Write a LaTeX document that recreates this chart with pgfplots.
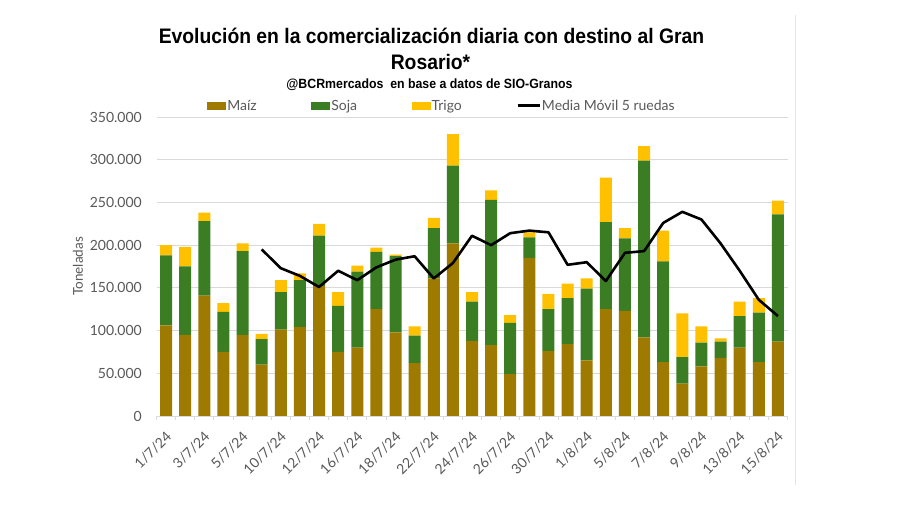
\documentclass[border=0pt]{standalone}
\usepackage{fontspec}
\setmainfont{Lato}
\newfontfamily\titlefont{Liberation Sans}[FakeStretch=0.92]
\usepackage{pgfplots}
\pgfplotsset{compat=1.18}
\definecolor{maiz}{HTML}{9E7B00}
\definecolor{soja}{HTML}{3B7D23}
\definecolor{trigo}{HTML}{FFC000}
\definecolor{txt}{HTML}{595959}
\definecolor{grd}{HTML}{D9D9D9}
\begin{document}
\begin{tikzpicture}
\path[use as bounding box] (0,0) rectangle (900pt,505pt);
\fill[white] (0,0) rectangle (900pt,505pt);
\draw[grd!70, line width=0.6pt] (795pt,20pt) -- (795pt,490pt);
\node[font=\titlefont\bfseries\fontsize{21}{24}\selectfont] at (431.5pt,469.4pt) {Evolución en la comercialización diaria con destino al Gran};
\node[font=\titlefont\bfseries\fontsize{21}{24}\selectfont] at (430.5pt,443pt) {Rosario*};
\node[font=\titlefont\bfseries\fontsize{13.4}{15}\selectfont] at (429.5pt,420.5pt) {@BCRmercados\ \ en base a datos de SIO-Granos};
\node[font=\fontsize{13.5}{15}\selectfont, text=txt, rotate=90] at (78pt,238.5pt) {Toneladas};
\begin{axis}[
  at={(156.5pt,89pt)}, anchor=south west,
  scale only axis, width=631pt, height=299pt,
  ybar stacked, bar width=12pt,
  xmin=-0.5, xmax=32.5, ymin=0, ymax=350,
  axis line style={draw=none},
  axis x line*=bottom,
  x axis line style={draw=grd, line width=0.8pt},
  axis y line*=left,
  y axis line style={draw=none},
  ymajorgrids, grid style={grd, line width=0.8pt},
  ytick={0,50,...,350},
  yticklabels={0,50.000,100.000,150.000,200.000,250.000,300.000,350.000},
  yticklabel style={font=\fontsize{14}{16}\selectfont, text=txt, inner sep=0pt, xshift=-14.5pt, anchor=east},
  xtick={0,2,...,32},
  xticklabels={1/7/24,3/7/24,5/7/24,10/7/24,12/7/24,16/7/24,18/7/24,22/7/24,24/7/24,26/7/24,30/7/24,1/8/24,5/8/24,7/8/24,9/8/24,13/8/24,15/8/24},
  xticklabel style={font=\fontsize{14}{16}\selectfont, text=txt, inner sep=0pt, xshift=3pt, yshift=-18pt, rotate=45, anchor=east},
  minor xtick={-0.5,0.5,...,32.5},
  major tick length=0pt, minor tick length=4pt,
  tick align=outside, tick pos=bottom,
  minor tick style={grd, line width=0.8pt},
  legend columns=4,
  legend style={draw=none, fill=none, at={(0.4517,1.0378)}, anchor=center,
    font=\fontsize{14}{16}\selectfont, text=txt, inner sep=0pt,
    nodes={inner sep=1pt},
    /tikz/every even column/.append style={column sep=53.5pt}},
  legend cell align=left,
  legend image code/.code={\fill[#1] (0pt,-4pt) rectangle (19pt,4pt);},
]
\addplot[fill=maiz, draw=none] coordinates {
(0,106) (1,95) (2,141) (3,75) (4,95) (5,60) (6,101) (7,104) (8,152) (9,75) (10,80)
(11,125) (12,98) (13,62) (14,161) (15,202) (16,88) (17,83) (18,49) (19,185) (20,76)
(21,84) (22,65) (23,125) (24,123) (25,92) (26,63) (27,38) (28,58) (29,68) (30,80) (31,63) (32,87)};
\addplot[fill=soja, draw=none] coordinates {
(0,82) (1,80) (2,87) (3,47) (4,98) (5,30) (6,44) (7,55) (8,59) (9,54) (10,89)
(11,67) (12,89) (13,32) (14,59) (15,91) (16,46) (17,170) (18,60) (19,24) (20,49)
(21,54) (22,84) (23,102) (24,85) (25,207) (26,118) (27,31) (28,28) (29,19) (30,37) (31,58) (32,149)};
\addplot[fill=trigo, draw=none] coordinates {
(0,12) (1,23) (2,10) (3,10) (4,9) (5,6) (6,14) (7,8) (8,14) (9,16) (10,7)
(11,5) (12,2) (13,11) (14,12) (15,37) (16,11) (17,11) (18,9) (19,6) (20,18)
(21,17) (22,12) (23,52) (24,12) (25,17) (26,36) (27,51) (28,19) (29,4) (30,17) (31,17) (32,16)};
\addlegendentry{Maíz}
\addlegendentry{Soja}
\addlegendentry{Trigo}
\addlegendimage{legend image code/.code={\draw[black, line width=2.6pt] (0pt,0pt) -- (22pt,0pt);}}
\addlegendentry{Media Móvil 5 ruedas}
\end{axis}
\begin{axis}[
  at={(156.5pt,89pt)}, anchor=south west,
  scale only axis, width=631pt, height=299pt,
  xmin=-0.5, xmax=32.5, ymin=0, ymax=350,
  hide axis,
]
\addplot[black, line width=2.6pt, line join=round, mark=none] coordinates {
(5,195) (6,173) (7,164) (8,151) (9,170) (10,159) (11,174) (12,183) (13,187) (14,161)
(15,179) (16,211) (17,200) (18,214) (19,217) (20,215) (21,177) (22,180) (23,158) (24,191)
(25,193) (26,226) (27,239) (28,230) (29,202) (30,170) (31,136) (32,117)};
\end{axis}
\end{tikzpicture}
\end{document}
